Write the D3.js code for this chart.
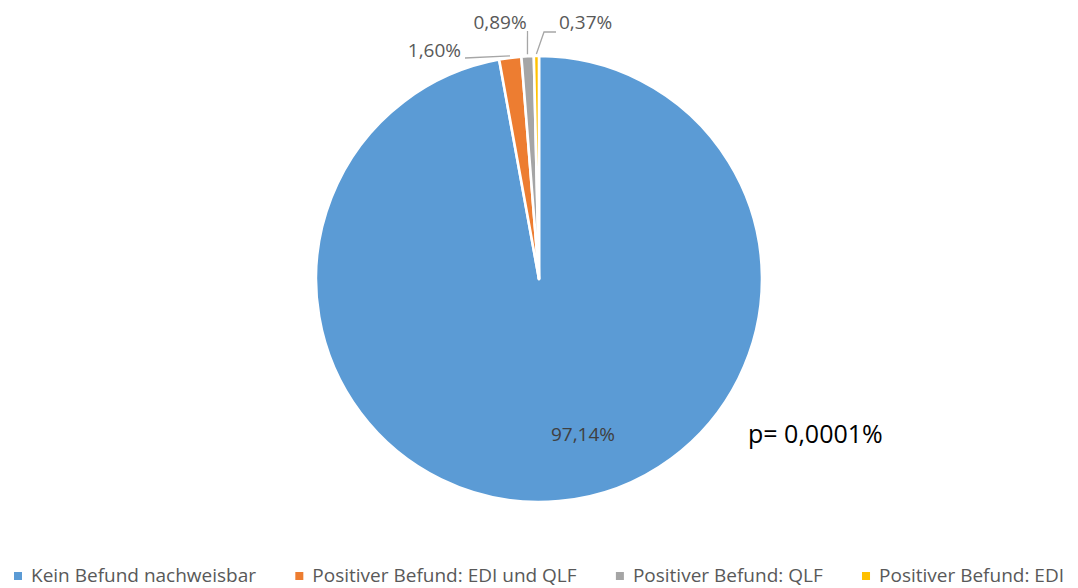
<!DOCTYPE html>
<html>
<head>
<meta charset="utf-8">
<script src="https://cdn.jsdelivr.net/npm/d3@7"></script>
<style>
  html, body { margin: 0; padding: 0; background: #ffffff; }
  svg { display: block; }
  text { font-family: "Open Sans", "Noto Sans", sans-serif; }
</style>
</head>
<body>
<svg id="chart" width="1078" height="588"></svg>
<script>
// ---- data ----
const categories = ["Kein Befund nachweisbar", "Positiver Befund: EDI und QLF", "Positiver Befund: QLF", "Positiver Befund: EDI"];
const values = [97.14, 1.60, 0.89, 0.37];
const valueLabels = ["97,14%", "1,60%", "0,89%", "0,37%"];
const colors = ["#5B9BD5", "#ED7D31", "#A5A5A5", "#FFC000"];
const note = "p= 0,0001%";

// ---- layout ----
const W = 1078, H = 588;
const cx = 539, cy = 279, R = 223;
// label anchors (x, baseline y, anchor) and leader elbow points
const labelLayout = [
  { x: 583, y: 441, anchor: "middle", inside: true },
  { x: 461, y: 57, anchor: "end", leader: [[465, 58]] },
  { x: 500, y: 29, anchor: "middle", leader: [[527.5, 31]] },
  { x: 559, y: 29, anchor: "start", leader: [[544, 32], [556, 32]] }
];

const svg = d3.select("#chart");
const data = categories.map((c, i) => ({ name: c, value: values[i], label: valueLabels[i], color: colors[i] }));

const pie = d3.pie().sort(null).value(d => d.value).startAngle(0).endAngle(2 * Math.PI);
const arcs = pie(data);
const arc = d3.arc().innerRadius(0).outerRadius(R);
const outer = d3.arc().innerRadius(R + 2).outerRadius(R + 2);

const g = svg.append("g").attr("transform", `translate(${cx},${cy})`);
g.selectAll("path.slice").data(arcs).enter().append("path")
  .attr("class", "slice")
  .attr("d", arc)
  .attr("fill", d => d.data.color)
  .attr("stroke", "#ffffff")
  .attr("stroke-width", 2.6)
  .attr("stroke-linejoin", "round");

// leader lines
arcs.forEach((a, i) => {
  const L = labelLayout[i];
  if (!L.leader) return;
  const p = outer.centroid(a);
  const pts = [[p[0] + cx, p[1] + cy]].concat(L.leader);
  svg.append("path")
    .attr("d", d3.line()(pts))
    .attr("fill", "none")
    .attr("stroke", "#A6A6A6")
    .attr("stroke-width", 1.3);
});

// labels
arcs.forEach((a, i) => {
  const L = labelLayout[i];
  svg.append("text")
    .attr("x", L.x).attr("y", L.y)
    .attr("text-anchor", L.anchor)
    .attr("font-size", 19)
    .attr("fill", L.inside ? "#404040" : "#595959")
    .text(a.data.label);
});

// note
svg.append("text")
  .attr("x", 748).attr("y", 443)
  .attr("font-size", 25)
  .attr("fill", "#000000")
  .text(note);

// legend
const legLeft = 14, legRight = 1064, legY = 582, sq = 8, sqGap = 9;
const leg = svg.append("g");
const items = data.map(d => {
  const t = leg.append("text")
    .attr("y", legY)
    .attr("font-size", 19)
    .attr("fill", "#595959")
    .text(d.name);
  return { d, t, w: t.node().getComputedTextLength() };
});
const totalItems = d3.sum(items, it => sq + sqGap + it.w);
const gap = (legRight - legLeft - totalItems) / (items.length - 1);
let x = legLeft;
items.forEach(it => {
  leg.append("rect")
    .attr("x", x).attr("y", legY - 10)
    .attr("width", sq).attr("height", sq)
    .attr("fill", it.d.color);
  it.t.attr("x", x + sq + sqGap);
  x += sq + sqGap + it.w + gap;
});
</script>
</body>
</html>
